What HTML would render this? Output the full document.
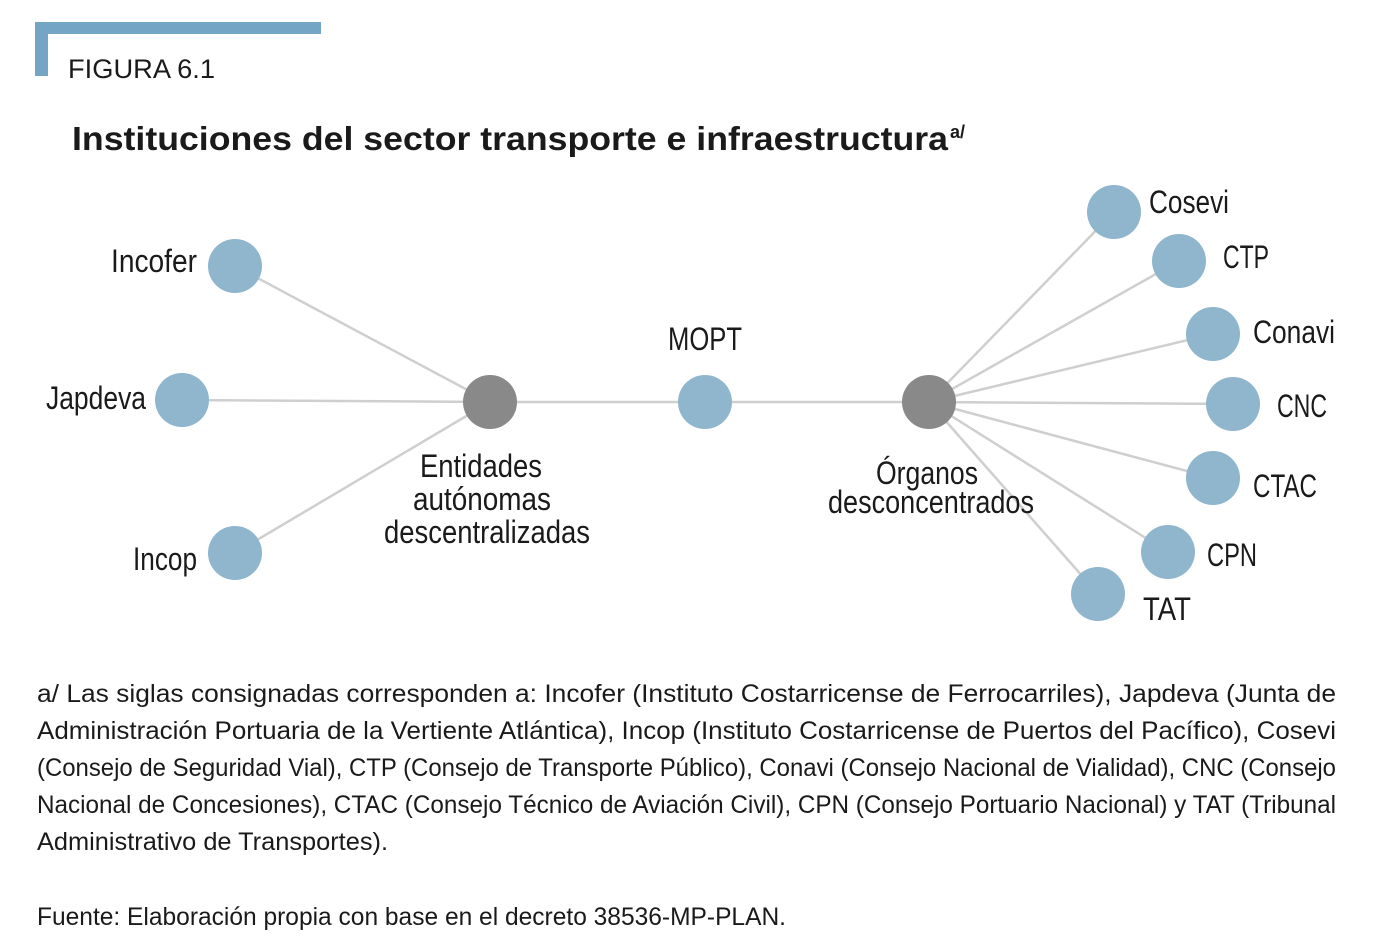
<!DOCTYPE html>
<html><head><meta charset="utf-8"><style>
html,body{margin:0;padding:0;background:#fff;}
svg{display:block;}
text{font-family:"Liberation Sans Narrow","Liberation Sans",sans-serif;fill:#1a1a1a;}
</style></head><body>
<svg width="1390" height="946" viewBox="0 0 1390 946" xmlns="http://www.w3.org/2000/svg">
<rect x="35" y="22" width="286" height="12" fill="#74a5c4"/>
<rect x="35" y="22" width="13" height="54" fill="#74a5c4"/>
<text x="68" y="78" font-size="27" textLength="147" lengthAdjust="spacingAndGlyphs">FIGURA 6.1</text>
<text x="72" y="150" font-size="33" font-weight="bold" font-family="Liberation Sans" textLength="876" lengthAdjust="spacingAndGlyphs" style="font-family:'Liberation Sans',sans-serif">Instituciones del sector transporte e infraestructura</text>
<text x="950" y="138" font-size="18" font-weight="bold" style="font-family:'Liberation Sans',sans-serif">a/</text>
<g stroke="#cfcfcf" stroke-width="2.5">
<line x1="235" y1="266" x2="490" y2="402"/>
<line x1="182" y1="400" x2="490" y2="402"/>
<line x1="235" y1="553" x2="490" y2="402"/>
<line x1="490" y1="402" x2="929" y2="402"/>
<line x1="929" y1="402" x2="1114" y2="212"/>
<line x1="929" y1="402" x2="1179" y2="261"/>
<line x1="929" y1="402" x2="1213" y2="334"/>
<line x1="929" y1="402" x2="1233" y2="404"/>
<line x1="929" y1="402" x2="1213" y2="478"/>
<line x1="929" y1="402" x2="1168" y2="552"/>
<line x1="929" y1="402" x2="1098" y2="594"/>
</g>
<g fill="#8fb6cd">
<circle cx="235" cy="266" r="27"/><circle cx="182" cy="400" r="27"/><circle cx="235" cy="553" r="27"/>
<circle cx="705" cy="402" r="27"/>
<circle cx="1114" cy="212" r="27"/><circle cx="1179" cy="261" r="27"/><circle cx="1213" cy="334" r="27"/>
<circle cx="1233" cy="404" r="27"/><circle cx="1213" cy="478" r="27"/><circle cx="1168" cy="552" r="27"/><circle cx="1098" cy="594" r="27"/>
</g>
<g fill="#898989"><circle cx="490" cy="402" r="27"/><circle cx="929" cy="402" r="27"/></g>
<g font-size="32">
<text x="111" y="272" textLength="86" lengthAdjust="spacingAndGlyphs">Incofer</text>
<text x="46" y="409" textLength="100" lengthAdjust="spacingAndGlyphs">Japdeva</text>
<text x="133" y="570" textLength="64" lengthAdjust="spacingAndGlyphs">Incop</text>
<text x="668" y="350" textLength="74" lengthAdjust="spacingAndGlyphs">MOPT</text>
<text x="1149" y="213" textLength="80" lengthAdjust="spacingAndGlyphs">Cosevi</text>
<text x="1223" y="268" textLength="46" lengthAdjust="spacingAndGlyphs">CTP</text>
<text x="1253" y="343" textLength="82" lengthAdjust="spacingAndGlyphs">Conavi</text>
<text x="1277" y="417" textLength="50" lengthAdjust="spacingAndGlyphs">CNC</text>
<text x="1253" y="497" textLength="64" lengthAdjust="spacingAndGlyphs">CTAC</text>
<text x="1207" y="566" textLength="50" lengthAdjust="spacingAndGlyphs">CPN</text>
<text x="1143" y="620" textLength="48" lengthAdjust="spacingAndGlyphs">TAT</text>
<text x="481" y="477" text-anchor="middle" textLength="122" lengthAdjust="spacingAndGlyphs">Entidades</text>
<text x="482" y="510" text-anchor="middle" textLength="138" lengthAdjust="spacingAndGlyphs">autónomas</text>
<text x="487" y="543" text-anchor="middle" textLength="206" lengthAdjust="spacingAndGlyphs">descentralizadas</text>
<text x="927" y="484" text-anchor="middle" textLength="102" lengthAdjust="spacingAndGlyphs">Órganos</text>
<text x="931" y="513" text-anchor="middle" textLength="206" lengthAdjust="spacingAndGlyphs">desconcentrados</text>
</g>
<g font-size="25">
<text x="37" y="702" textLength="1299" lengthAdjust="spacingAndGlyphs">a/ Las siglas consignadas corresponden a: Incofer (Instituto Costarricense de Ferrocarriles), Japdeva (Junta de</text>
<text x="37" y="739" textLength="1299" lengthAdjust="spacingAndGlyphs">Administración Portuaria de la Vertiente Atlántica), Incop (Instituto Costarricense de Puertos del Pacífico), Cosevi</text>
<text x="37" y="776" textLength="1299" lengthAdjust="spacingAndGlyphs">(Consejo de Seguridad Vial), CTP (Consejo de Transporte Público), Conavi (Consejo Nacional de Vialidad), CNC (Consejo</text>
<text x="37" y="813" textLength="1299" lengthAdjust="spacingAndGlyphs">Nacional de Concesiones), CTAC (Consejo Técnico de Aviación Civil), CPN (Consejo Portuario Nacional) y TAT (Tribunal</text>
<text x="37" y="850" textLength="351" lengthAdjust="spacingAndGlyphs">Administrativo de Transportes).</text>
<text x="37" y="925" textLength="749" lengthAdjust="spacingAndGlyphs">Fuente: Elaboración propia con base en el decreto 38536-MP-PLAN.</text>
</g>
</svg>
</body></html>
